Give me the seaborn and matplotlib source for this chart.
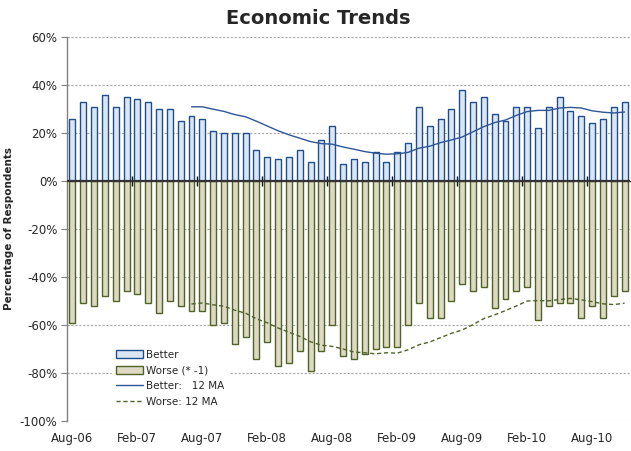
import numpy as np
import pandas as pd
import matplotlib
matplotlib.use("Agg")
import matplotlib.pyplot as plt
import seaborn as sns
from matplotlib.patches import Patch
from matplotlib.lines import Line2D

# ---- data ----
months = pd.date_range("2006-08-01", periods=52, freq="MS").strftime("%b-%y").tolist()
better = [26, 33, 31, 36, 31, 35, 34, 33, 30, 30, 25, 27,
          26, 21, 20, 20, 20, 13, 10, 9, 10, 13, 8, 17,
          23, 7, 9, 8, 12, 8, 12, 16, 31, 23, 26, 30,
          38, 33, 35, 28, 25, 31, 31, 22, 31, 35, 29, 27,
          24, 26, 31, 33]
worse = [59, 51, 52, 48, 50, 46, 47, 51, 55, 50, 52, 54,
         54, 60, 59, 68, 65, 74, 67, 77, 76, 71, 79, 71,
         60, 73, 74, 72, 70, 69, 69, 60, 51, 57, 57, 50,
         43, 46, 44, 53, 49, 46, 44, 58, 52, 51, 51, 57,
         52, 57, 48, 46]
yticks = [60, 40, 20, 0, -20, -40, -60, -80, -100]

df = pd.DataFrame({"month": months, "better": better,
                   "worse": [-w for w in worse]})
df["pos"] = np.arange(len(df))
df["better_ma"] = df["better"].rolling(12).mean()
df["worse_ma"] = df["worse"].rolling(12).mean()

# ---- style ----
sns.set_style("white")
plt.rcParams["font.family"] = ["DejaVu Sans"]

fig = plt.figure(figsize=(6.31, 4.51), dpi=100)
ax = fig.add_axes([67 / 631, 30 / 451, 563 / 631, 384 / 451])

blue_fill, blue_edge = "#DCE6F2", "#1F4E8C"
olive_fill, olive_edge = "#DDD9C3", "#4F6228"

sns.barplot(data=df, x="pos", y="better", native_scale=True, width=0.55,
            color=blue_fill, edgecolor=blue_edge, linewidth=1.0,
            saturation=1, ax=ax, zorder=3)
sns.barplot(data=df, x="pos", y="worse", native_scale=True, width=0.55,
            color=olive_fill, edgecolor=olive_edge, linewidth=1.0,
            saturation=1, ax=ax, zorder=3)
sns.lineplot(data=df, x="pos", y="better_ma", color="#2F5597", lw=1.0,
             ax=ax, zorder=4)
sns.lineplot(data=df, x="pos", y="worse_ma", color=olive_edge, lw=1.0,
             ax=ax, zorder=4, linestyle=(0, (3, 2)))

ax.set_xlim(-0.5, len(df) - 0.5)
ax.set_ylim(-100, 60)
ax.set_yticks(yticks)
ax.set_yticklabels([f"{v}%" for v in yticks], fontsize=8.5)
ax.yaxis.grid(True, color="#A6A6A6", linestyle=(0, (2, 1.5)), lw=0.8)
ax.set_axisbelow(True)
ax.tick_params(axis="y", length=4, color="#808080", direction="out", left=True, pad=3)

lab_pos = list(range(0, len(df), 6))
ax.set_xticks(lab_pos)
ax.set_xticklabels([months[i] for i in lab_pos], fontsize=8.5)
ax.tick_params(axis="x", length=0, pad=8)
ax.set_xlabel("")
ax.set_ylabel("Percentage of Respondents", fontsize=7.5, fontweight="bold", labelpad=4)

for s in ["top", "right", "bottom"]:
    ax.spines[s].set_visible(False)
ax.spines["left"].set_color("#808080")
ax.spines["left"].set_linewidth(1.0)

# zero axis with category boundary ticks
ax.axhline(0, color="#333333", lw=1.6, zorder=5)
sec = ax.secondary_xaxis(100 / 160)
sec.set_xticks([p + 5.5 for p in lab_pos[:-1]])
sec.set_xticklabels([])
sec.tick_params(axis="x", direction="inout", length=7, width=1, color="#111111")
sec.spines["bottom"].set_visible(False)

handles = [Patch(facecolor=blue_fill, edgecolor=blue_edge, label="Better"),
           Patch(facecolor=olive_fill, edgecolor=olive_edge, label="Worse (* -1)"),
           Line2D([], [], color="#2F5597", lw=1.0, label="Better:   12 MA"),
           Line2D([], [], color=olive_edge, lw=1.0, linestyle=(0, (3, 2)), label="Worse: 12 MA")]
leg = ax.legend(handles=handles, loc="upper left", bbox_to_anchor=(0.07, 0.21),
                frameon=True, fontsize=7.5, handlelength=2.6, handleheight=0.9,
                labelspacing=0.55, handletextpad=0.3, borderpad=0.4)
leg.get_frame().set_edgecolor("white")
leg.get_frame().set_facecolor("white")
leg.get_frame().set_alpha(1)
leg.set_zorder(6)

fig.text(0.505, 0.958, "Economic Trends", ha="center", va="center",
         fontsize=14, fontweight="bold")

fig.savefig("out.png", dpi=100)
